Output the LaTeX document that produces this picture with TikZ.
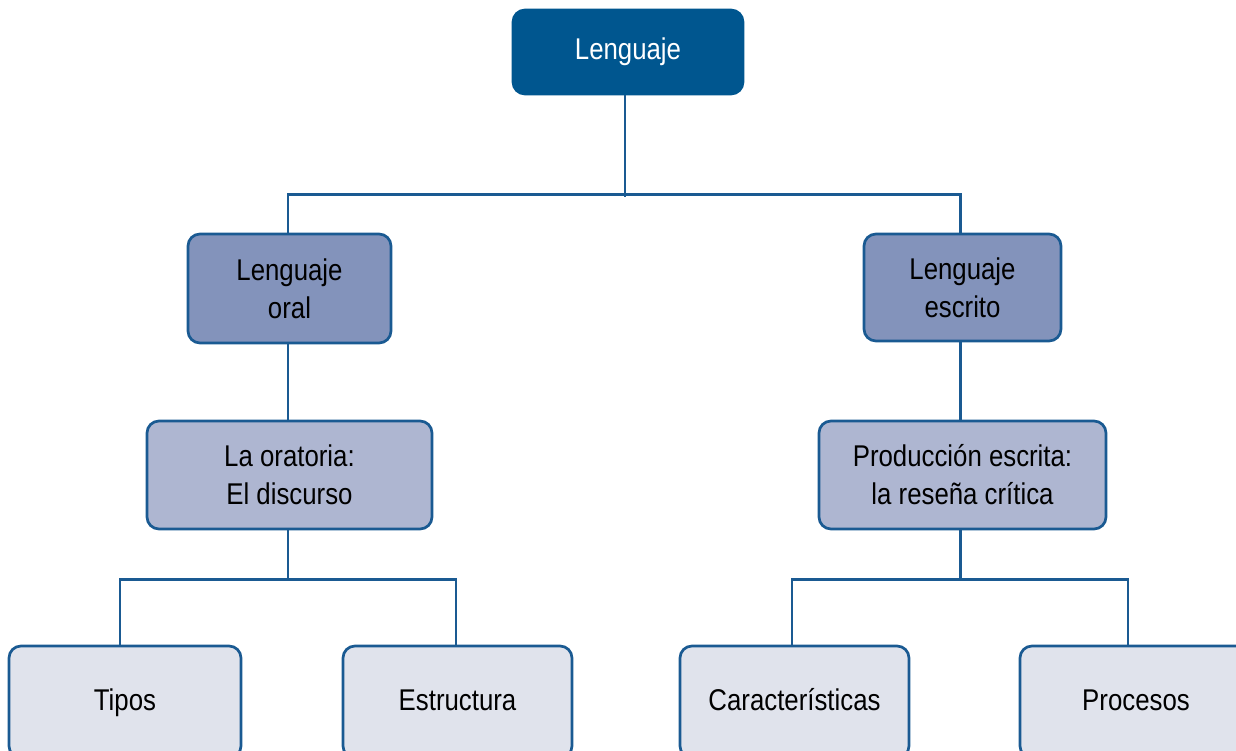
\documentclass[tikz,border=0pt]{standalone}
\usepackage{fontspec}
\setmainfont{Liberation Sans}[FakeStretch=0.86]
\definecolor{cdark}{HTML}{00568F}
\definecolor{cmid}{HTML}{8393BB}
\definecolor{clight}{HTML}{AEB6D1}
\definecolor{cpale}{HTML}{E0E3EC}
\definecolor{cline}{HTML}{1A5A92}
\tikzset{
  box/.style={draw=cline, line width=2.7pt, rounded corners=12pt, align=center,
    inner sep=0pt, font=\fontsize{30}{38}\selectfont, text=black},
  topbox/.style={box, fill=cdark, draw=cdark, text=white},
  lvl1/.style={box, fill=cmid},
  lvl2/.style={box, fill=clight},
  lvl3/.style={box, fill=cpale, text height=22pt, text depth=6pt},
  conn/.style={draw=cline, line width=2.7pt}
}
\begin{document}
\begin{tikzpicture}[x=1pt,y=-1pt]
\useasboundingbox (0,0) rectangle (1236,751);
\clip (0,0) rectangle (1236,751);
\node[topbox, minimum width=230pt, minimum height=84pt] (top) at (628,52) {Lenguaje};
\node[lvl1, minimum width=203pt, minimum height=109pt] (lo) at (289.5,288.5) {Lenguaje\\oral};
\node[lvl1, minimum width=197pt, minimum height=107pt] (le) at (962.5,287.5) {Lenguaje\\escrito};
\node[lvl2, minimum width=285pt, minimum height=108pt] (or) at (289.5,475) {La oratoria:\\El discurso};
\node[lvl2, minimum width=287pt, minimum height=108pt] (pe) at (962.5,475) {Producción escrita:\\la reseña crítica};
\node[lvl3, minimum width=232pt, minimum height=112pt] (ti) at (125,702) {Tipos};
\node[lvl3, minimum width=229pt, minimum height=112pt] (es) at (457.5,702) {Estructura};
\node[lvl3, minimum width=229pt, minimum height=112pt] (ca) at (794.5,702) {Características};
\node[lvl3, minimum width=232pt, minimum height=112pt] (pr) at (1136,702) {Procesos};
% connectors
\draw[conn] ([xshift=-3pt]top.south) -- ++(0,102) coordinate (j1);
\draw[conn] ([xshift=-1.5pt]lo.north) -- ++(0,-38) -| ([xshift=-2pt]le.north);
\draw[conn] ([xshift=-1.5pt]lo.south) -- ([xshift=-1.5pt]or.north);
\draw[conn] ([xshift=-2pt]le.south) -- ([xshift=-2pt]pe.north);
\draw[conn] ([xshift=-1.5pt]or.south) -- ++(0,51) coordinate (j2);
\draw[conn] ([xshift=-5pt]ti.north) -- ++(0,-65) -| ([xshift=-1.5pt]es.north);
\draw[conn] ([xshift=-2pt]pe.south) -- ++(0,51) coordinate (j3);
\draw[conn] ([xshift=-2.5pt]ca.north) -- ++(0,-65) -| ([xshift=-8pt]pr.north);
\end{tikzpicture}
\end{document}
